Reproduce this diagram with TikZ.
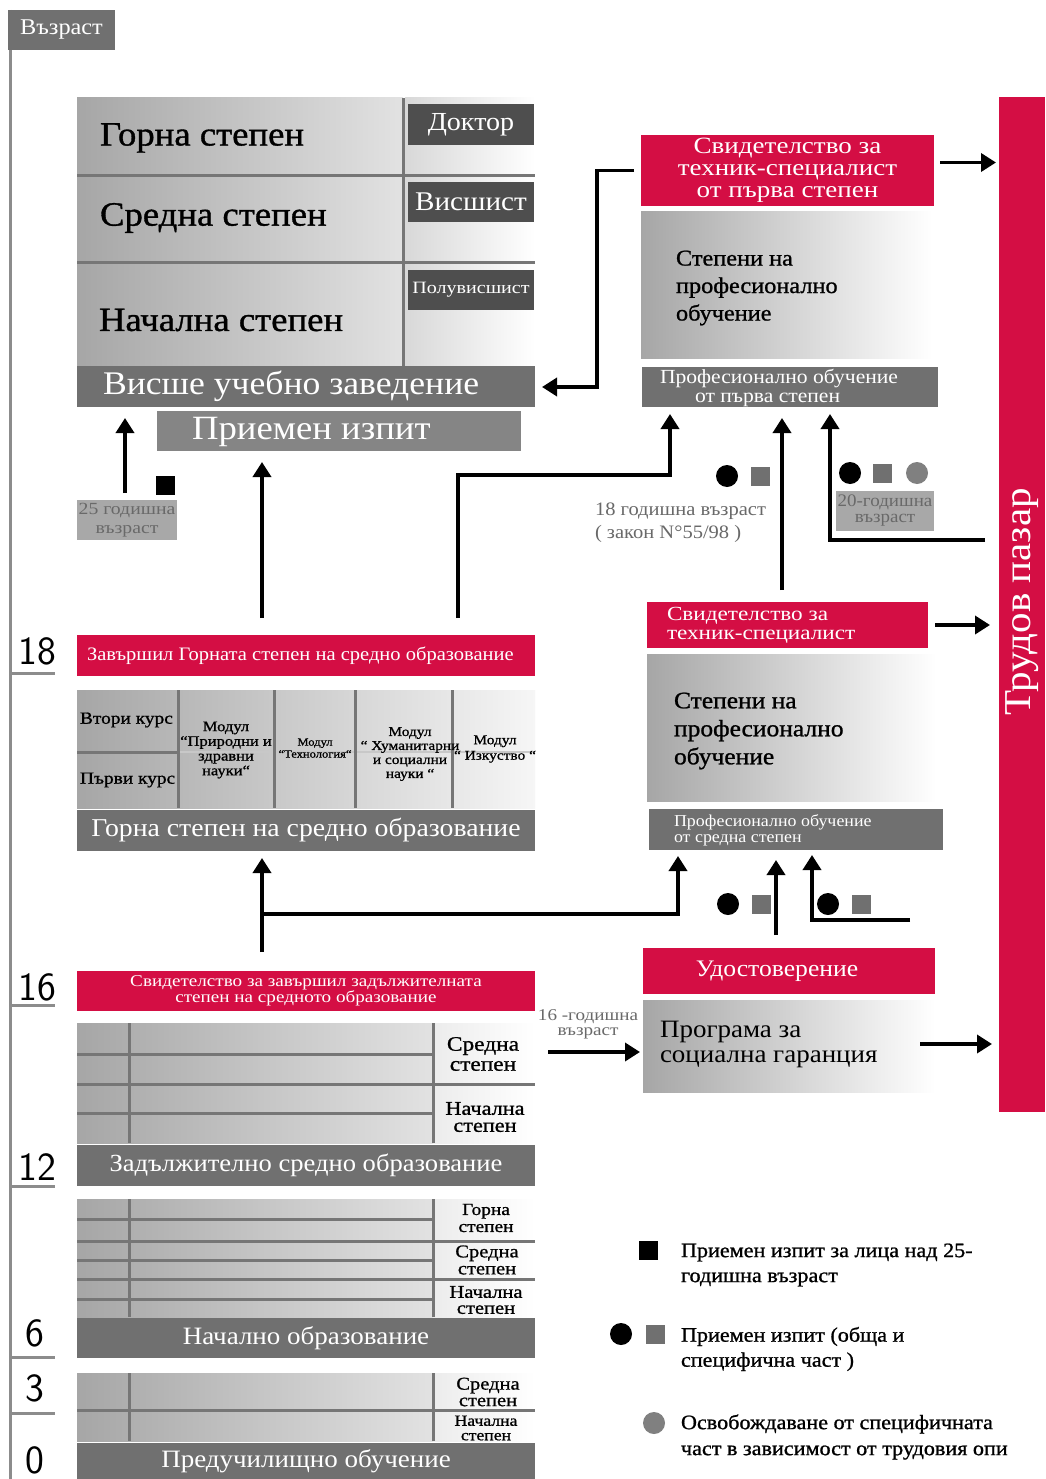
\documentclass[tikz,border=0pt]{standalone}
\usepackage{fontspec}
\setmainfont[FakeStretch=1.08]{Liberation Serif}
\newfontfamily\hv[FakeBold=1,FakeStretch=1.08]{Liberation Serif}
\newfontfamily\hvw[FakeBold=1,FakeStretch=1.14]{Liberation Serif}
\newfontfamily\wider[FakeStretch=1.16]{Liberation Serif}
\usetikzlibrary{arrows.meta,calc}
\definecolor{crim}{RGB}{212,14,68}
\definecolor{barg}{RGB}{112,112,112}
\definecolor{prg}{RGB}{133,133,133}
\definecolor{dkg}{RGB}{78,78,78}
\definecolor{ltg}{RGB}{168,168,168}
\definecolor{txg}{RGB}{105,105,105}
\definecolor{gl}{RGB}{166,166,166}
\definecolor{gm}{RGB}{226,226,226}
\definecolor{gr}{RGB}{236,236,236}
\definecolor{divg}{RGB}{118,118,118}
\definecolor{axg}{RGB}{140,140,140}
\definecolor{dotg}{RGB}{112,112,112}
\definecolor{dotc}{RGB}{128,128,128}
\definecolor{faint}{RGB}{200,200,200}
\tikzset{
  blk/.style={anchor=north west},
  fs/.style 2 args={font=\fontsize{#1}{#2}\selectfont},
  hfs/.style 2 args={font=\hv\fontsize{#1}{#2}\selectfont},
  hws/.style 2 args={font=\hvw\fontsize{#1}{#2}\selectfont},
  wfs/.style 2 args={font=\wider\fontsize{#1}{#2}\selectfont},
  agefs/.style={font=\sffamily\fontsize{40}{40}\selectfont},
  bar/.style={blk, fill=barg, text=white},
  redbox/.style={blk, fill=crim, text=white},
  grad/.style={blk, left color=gl, right color=white},
  divl/.style={draw=divg, line width=3pt},
  axl/.style={draw=axg, line width=3pt},
  arr/.style={line width=3.6pt, -{Triangle[width=18pt,length=15pt]}},
  bdot/.style={circle, fill=black, minimum size=22pt},
  gdot/.style={circle, fill=dotc, minimum size=22pt},
  bsq/.style={fill=black, minimum size=19pt},
  gsq/.style={fill=dotg, minimum size=19pt},
}
\begin{document}
\begin{tikzpicture}[x=1pt,y=-1pt, every node/.style={inner sep=0pt, outer sep=0pt}]
\useasboundingbox (0,0) rectangle (1045,1479);
\fill[white] (0,0) rectangle (1045,1479);

% ---------- age axis ----------
\draw[axl] (10,10) -- (10,1479);
\node[bar, minimum width=107pt, minimum height=40pt, fs={22.5}{22.5}] (age) at (8,10) {Възраст};
\foreach \yy in {673,1005,1186,1357,1413} {\draw[axl] (12,\yy) -- (55,\yy);}
\node[agefs] (a18) at (37,651) {18};
\node[agefs] (a16) at (37,987) {16};
\node[agefs] (a12) at (37,1167) {12};
\node[agefs] (a6) at (35,1333) {6};
\node[agefs] (a3) at (35,1388) {3};
\node[agefs] (a0) at (35,1460) {0};

% ---------- university ----------
\node[blk, left color=gl, right color=gm, minimum width=326pt, minimum height=268pt] (uniL) at (77,98) {};
\node[blk, left color={rgb,255:red,216;green,216;blue,216}, right color=white, minimum width=130pt, minimum height=268pt] (uniR) at (405,98) {};
\draw[divl] (403,98) -- (403,366);
\draw[divl] (77,176) -- (535,176);
\draw[divl] (77,262) -- (535,262);
\node[anchor=west, hfs={34}{34}] (t1) at (100,138) {Горна степен};
\node[anchor=west, hfs={34}{34}] (t2) at (100,218) {Средна степен};
\node[anchor=west, hfs={34}{34}] (t3) at (99,320) {Начална степен};
\node[blk, fill=dkg, text=white, minimum width=126pt, minimum height=41pt, fs={26}{26}] (dok) at (408,104) {Доктор};
\node[blk, fill=dkg, text=white, minimum width=126pt, minimum height=40pt, fs={27}{27}] (vis) at (408,182) {Висшист};
\node[blk, fill=dkg, text=white, minimum width=126pt, minimum height=40pt, wfs={17.3}{17.3}] (pol) at (408,270) {Полувисшист};
\node[bar, minimum width=458pt, minimum height=41pt] (vuz) at (77,366) {};
\node[anchor=west, text=white, fs={33}{33}] (vuzt) at (103,386) {Висше учебно заведение};
\node[blk, fill=prg, minimum width=364pt, minimum height=40pt] (priem) at (157,411) {};
\node[anchor=west, text=white, fs={34}{34}] (priemt) at (192,432) {Приемен изпит};
\node[blk, fill=ltg, text=txg, minimum width=100pt, minimum height=40pt, wfs={17}{19}, align=center] (b25) at (77,500) {25 годишна\\възраст};
\node[blk, bsq] (sq25) at (156,476) {};

% ---------- upper secondary ----------
\node[redbox, minimum width=458pt, minimum height=41pt] (zav) at (77,635) {};
\node[anchor=west, text=white, fs={19}{19}] (zavt) at (87,656) {Завършил Горната степен на средно образование};
\node[blk, left color=gl, right color={rgb,255:red,246;green,246;blue,246}, minimum width=458pt, minimum height=118pt] (mod) at (77,690) {};
\draw[draw=faint, line width=2pt] (178,752) -- (535,752);
\draw[divl] (77,752) -- (178,752);
\foreach \xx in {178,274,355,452} {\draw[divl] (\xx,690) -- (\xx,808);}
\node[anchor=west, hws={17}{17}] (k2) at (80,720) {Втори курс};
\node[anchor=west, hws={17}{17}] (k1) at (80,780) {Първи курс};
\node[align=center, hws={14.5}{14.7}] (m1) at (226,750) {Модул\\“Природни и\\здравни\\науки“};
\node[align=center, hws={11}{12}] (m2) at (315,748) {Модул\\“Технология“};
\node[align=center, hws={13.5}{14}] (m3) at (410,754) {Модул\\“ Хуманитарни\\и социални\\науки “};
\node[align=center, hws={13.5}{15.5}] (m4) at (495,749) {Модул\\“ Изкуство “};
\node[bar, minimum width=458pt, minimum height=41pt, fs={25.7}{25.7}] (gsso) at (77,810) {Горна степен на средно образование};

% ---------- compulsory secondary ----------
\node[redbox, minimum width=458pt, minimum height=40pt, wfs={16.5}{16.5}, align=center] (red16) at (77,971) {Свидетелство за завършил задължителната\\степен на средното образование};
\node[blk, left color=gl, right color=gm, minimum width=356pt, minimum height=120pt] (zg) at (77,1023) {};
\node[blk, left color=gr, right color=white, minimum width=102pt, minimum height=120pt] (zgr) at (433,1023) {};
\draw[divl] (129,1023) -- (129,1143);
\draw[divl] (433,1023) -- (433,1143);
\draw[divl] (77,1054) -- (433,1054);
\draw[divl] (77,1084) -- (535,1084);
\draw[divl] (77,1113) -- (433,1113);
\node[align=center, hws={20.5}{20}] (zs) at (483,1054) {Средна\\степен};
\node[align=center, hws={19.5}{17}] (zn) at (485,1117) {Начална\\степен};
\node[bar, minimum width=458pt, minimum height=41pt, fs={24.6}{24.6}] (zso) at (77,1145) {Задължително средно образование};

% ---------- primary ----------
\node[blk, left color=gl, right color=gm, minimum width=356pt, minimum height=118pt] (ng) at (77,1199) {};
\node[blk, left color=gr, right color=white, minimum width=102pt, minimum height=118pt] (ngr) at (433,1199) {};
\draw[divl] (129,1199) -- (129,1317);
\draw[divl] (433,1199) -- (433,1317);
\draw[divl] (77,1219) -- (433,1219);
\draw[divl] (77,1241) -- (535,1241);
\draw[divl] (77,1260) -- (433,1260);
\draw[divl] (77,1279) -- (535,1279);
\draw[divl] (77,1299) -- (433,1299);
\node[align=center, hws={17}{17}] (ng1) at (486,1218) {Горна\\степен};
\node[align=center, hws={18}{17}] (ng2) at (487,1260) {Средна\\степен};
\node[align=center, hws={18}{16}] (ng3) at (486,1300) {Начална\\степен};
\node[bar, minimum width=458pt, minimum height=40pt, fs={25}{25}] (nob) at (77,1318) {Начално образование};

% ---------- preschool ----------
\node[blk, left color=gl, right color=gm, minimum width=356pt, minimum height=68pt] (pg) at (77,1373) {};
\node[blk, left color=gr, right color=white, minimum width=102pt, minimum height=68pt] (pgr) at (433,1373) {};
\draw[divl] (129,1373) -- (129,1441);
\draw[divl] (433,1373) -- (433,1441);
\draw[divl] (77,1410) -- (535,1410);
\node[align=center, hws={18}{16.5}] (pg1) at (488,1392) {Средна\\степен};
\node[align=center, hws={15.5}{14.5}] (pg2) at (486,1428) {Начална\\степен};
\node[bar, minimum width=458pt, minimum height=36pt, fs={25}{25}] (pre) at (77,1443) {Предучилищно обучение};

% ---------- right column ----------
\node[blk, fill=crim, minimum width=46pt, minimum height=1015pt] (market) at (999,97) {};
\node[rotate=90, text=white, fs={38}{38}] (markett) at (1022,602) {Трудов пазар};

\node[redbox, minimum width=293pt, minimum height=71pt, wfs={23.3}{22}, align=center] (red1) at (641,135) {Свидетелство за\\техник-специалист\\от първа степен};
\node[grad, minimum width=291pt, minimum height=146pt] (g1) at (641,212) {};
\node[anchor=west, align=left, hfs={22.5}{27.5}] (g1t) at (676,288) {Степени на\\професионално\\обучение};
\node[bar, minimum width=296pt, minimum height=40pt] (pf1) at (642,367) {};
\node[anchor=west, align=left, text=white, fs={20}{19.5}] (pf1t) at (660,388) {Професионално обучение\\\hspace*{35pt}от първа степен};
\node[bdot] (d1) at (727,476) {};
\node[gsq] (d2) at (760,476) {};
\node[bdot] (d3) at (850,473) {};
\node[gsq] (d4) at (882,473) {};
\node[gdot] (d5) at (917,473) {};
\node[blk, fill=ltg, text=txg, minimum width=98pt, minimum height=40pt, fs={17.6}{16}, align=center] (b20) at (836,491) {20-годишна\\възраст};
\node[anchor=west, align=left, text=txg, fs={19}{23}] (t18) at (595,523) {18 годишна възраст\\( закон N°55/98 )};

\node[redbox, minimum width=281pt, minimum height=46pt] (red2) at (647,602) {};
\node[anchor=west, align=left, text=white, wfs={20}{19}] (red2t) at (667,625) {Свидетелство за\\техник-специалист};
\node[grad, minimum width=289pt, minimum height=147pt] (g2) at (647,654) {};
\node[anchor=west, align=left, hfs={23.6}{28}] (g2t) at (674,731) {Степени на\\професионално\\обучение};
\node[bar, minimum width=294pt, minimum height=41pt] (pf2) at (649,809) {};
\node[anchor=west, align=left, text=white, fs={16.6}{16}] (pf2t) at (674,830) {Професионално обучение\\от средна степен};
\node[bdot] (e1) at (728,904) {};
\node[gsq] (e2) at (761,904) {};
\node[bdot] (e3) at (828,904) {};
\node[gsq] (e4) at (861,904) {};

\node[redbox, minimum width=292pt, minimum height=46pt] (udo) at (643,948) {};
\node[text=white, fs={23.7}{23.7}] (udot) at (777,971) {Удостоверение};
\node[grad, minimum width=292pt, minimum height=92pt] (prog) at (643,1000) {};
\node[anchor=west, align=left, fs={25}{25}] (progt) at (660,1044) {Програма за\\социална гаранция};
\node[align=center, text=txg, wfs={16.5}{15}] (t16) at (588,1024) {16 -годишна\\възраст};

% ---------- legend ----------
\node[bsq] (l1) at (648,1250) {};
\node[anchor=west, align=left, hfs={20.5}{25}] (l1t) at (681,1265) {Приемен изпит за лица над 25-\\годишна възраст};
\node[bdot] (l2a) at (621,1334) {};
\node[gsq] (l2b) at (655,1334) {};
\node[anchor=west, align=left, hfs={20.5}{25}] (l2t) at (681,1349) {Приемен изпит (обща и\\специфична част )};
\node[gdot] (l3) at (654,1423) {};
\node[anchor=west, align=left, hfs={20.5}{26}] (l3t) at (681,1437) {Освобождаване от специфичната\\част в зависимост от трудовия опи};

% ---------- connectors ----------
\coordinate (x125) at (125,0);
\coordinate (x262) at (262,0);
\coordinate (x458) at (458,0);
\coordinate (x782) at (782,0);
\coordinate (x776) at (776,0);
\coordinate (x812) at (812,0);
\coordinate (r1) at (670,475);
\coordinate (r2) at (597,387);
\coordinate (r3) at (830,540);
\coordinate (r4) at (910,920);
\coordinate (j1) at (262,914);
\coordinate (j2) at (678,914);
\coordinate (m1c) at ($(red1.east)+(0,-8)$);
\coordinate (m3) at (920,1044);
\coordinate (m4) at (548,1052);

\draw[arr, shorten <=7pt, shorten >=11pt] (b25.north -| x125) -- (x125 |- vuz.south);
\draw[arr, shorten <=17pt, shorten >=11pt] (zav.north -| x262) -- (x262 |- priem.south);
\draw[arr, shorten <=17pt, shorten >=7pt] (zav.north -| x458) |- (r1) -- (r1 |- pf1.south);
\draw[arr, shorten <=7pt, shorten >=7pt] (red1.west) -| (r2) -- (r2 -| vuz.east);
\draw[arr, shorten <=6pt, shorten >=3pt] (m1c) -- (m1c -| market.west);
\draw[arr, shorten <=12pt, shorten >=11pt] (red2.north -| x782) -- (x782 |- pf1.south);
\draw[arr, shorten <=14pt, shorten >=7pt] (market.west |- r3) -- (r3) -- (r3 |- pf1.south);
\draw[arr, shorten <=7pt, shorten >=9pt] (red2.east) -- (red2.east -| market.west);
\draw[arr, shorten <=19pt, shorten >=7pt] (red16.north -| x262) -- (x262 |- gsso.south);
\draw[arr, shorten >=6pt] (j1) -- (j2) -- (j2 |- pf2.south);
\draw[arr, shorten <=13pt, shorten >=10pt] (udo.north -| x776) -- (x776 |- pf2.south);
\draw[arr, shorten >=5pt] (r4) -| (x812 |- pf2.south);
\draw[arr, shorten >=7pt] (m3) -- (m3 -| market.west);
\draw[arr, shorten >=3pt] (m4) -- (m4 -| prog.west);
\end{tikzpicture}
\end{document}
